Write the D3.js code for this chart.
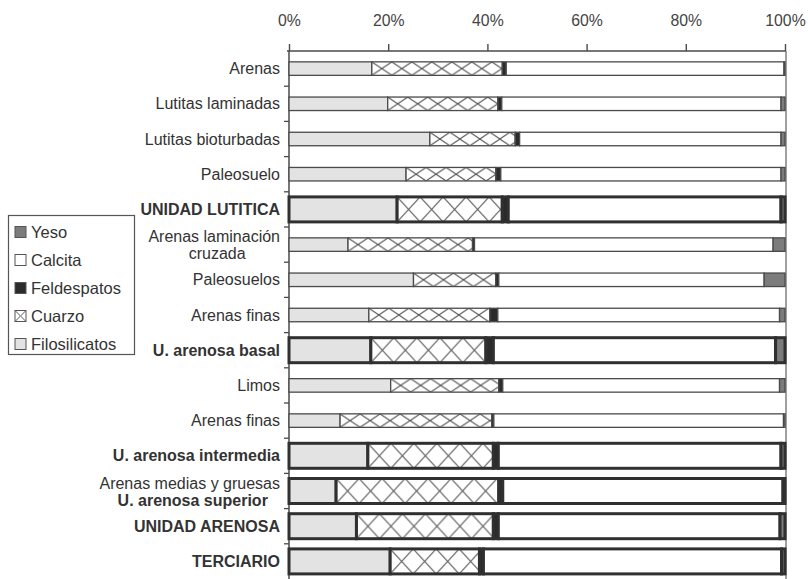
<!DOCTYPE html>
<html>
<head>
<meta charset="utf-8">
<script src="https://cdn.jsdelivr.net/npm/d3@7"></script>
<style>
  html, body { margin: 0; padding: 0; background: #fff; }
  svg { display: block; font-family: "Liberation Sans", Arial, Helvetica, sans-serif; }
</style>
</head>
<body>
<svg id="chart" width="808" height="579"></svg>
<script>
// ---------- DATA ----------
const categories = [
  "Arenas",
  "Lutitas laminadas",
  "Lutitas bioturbadas",
  "Paleosuelo",
  "UNIDAD LUTITICA",
  "Arenas laminación\ncruzada",
  "Paleosuelos",
  "Arenas finas",
  "U. arenosa basal",
  "Limos",
  "Arenas finas",
  "U. arenosa intermedia",
  "Arenas medias y gruesas\nU. arenosa superior",
  "UNIDAD ARENOSA",
  "TERCIARIO"
];
const boldLabels = ["UNIDAD LUTITICA", "U. arenosa basal", "U. arenosa intermedia",
  "U. arenosa superior", "UNIDAD ARENOSA", "TERCIARIO"];

const seriesNames = ["Filosilicatos", "Cuarzo", "Feldespatos", "Calcita", "Yeso"];
const filosilicatos = [16.7, 19.9, 28.4, 23.6, 21.8, 11.9, 25.1, 16.1, 16.5, 20.5, 10.3, 15.9, 9.5, 13.6, 20.4];
const cuarzo        = [26.3, 22.2, 17.2, 18.1, 21.2, 25.1, 16.6, 24.4, 23.2, 21.8, 30.6, 25.3, 32.8, 27.6, 18.0];
const feldespatos   = [0.8, 0.8, 0.9, 1.0, 1.2, 0.4, 0.6, 1.6, 1.5, 0.8, 0.4, 1.0, 0.8, 1.0, 0.8];
const calcita       = [56.0, 56.3, 52.7, 56.5, 55.0, 60.2, 53.5, 56.8, 56.9, 55.8, 58.4, 57.0, 56.5, 56.8, 60.1];
const yeso          = [0.2, 0.8, 0.8, 0.8, 0.8, 2.4, 4.2, 1.1, 1.9, 1.1, 0.3, 0.8, 0.4, 1.0, 0.7];
const tickValues = [0, 20, 40, 60, 80, 100];
const legendOrder = ["Yeso", "Calcita", "Feldespatos", "Cuarzo", "Filosilicatos"];

// ---------- SETUP ----------
const svg = d3.select("#chart");
const defs = svg.append("defs");
const margin = { left: 289, right: 785, top: 51, bottom: 579 };
const x = d3.scaleLinear().domain([0, 100]).range([margin.left, margin.right]);
const y = d3.scaleBand().domain(d3.range(categories.length)).range([margin.top, margin.bottom]).paddingInner(0);

const fills = {
  "Filosilicatos": "#e3e3e3",
  "Cuarzo": "hatch",
  "Feldespatos": "#2b2b2b",
  "Calcita": "#ffffff",
  "Yeso": "#7c7c7c"
};
const ink = "#4a4a4a";
const textColor = "#333";
const labelSize = "16px";

const rows = categories.map((c, i) => {
  const lines = c.split("\n");
  const bold = lines.some(l => boldLabels.includes(l));
  const vals = [filosilicatos[i], cuarzo[i], feldespatos[i], calcita[i], yeso[i]];
  let acc = 0;
  const segs = vals.map((v, k) => { const s = { name: seriesNames[k], x0: acc, x1: acc + v }; acc += v; return s; });
  return { i, lines, bold, segs };
});

// ---------- AXES ----------
const topAxis = d3.axisTop(x).tickValues(tickValues).tickFormat(d => d + "%").tickSize(7).tickSizeOuter(0).tickPadding(18);
const gTop = svg.append("g").attr("transform", `translate(0,${margin.top})`).call(topAxis);
gTop.select(".domain").attr("stroke", ink).attr("stroke-width", 1.6).attr("d", `M${x(0) - 2},0H${x(100) + 1}`);
gTop.selectAll(".tick line").attr("stroke", ink).attr("stroke-width", 1.4);
gTop.selectAll(".tick text").attr("fill", "#444").attr("font-size", "15.8px")
  .attr("font-family", '"Liberation Sans", Arial, sans-serif');

svg.append("line").attr("x1", x(0)).attr("x2", x(0)).attr("y1", margin.top).attr("y2", margin.bottom)
  .attr("stroke", ink).attr("stroke-width", 1.5);
svg.append("line").attr("x1", x(100) + 1).attr("x2", x(100) + 1).attr("y1", margin.top).attr("y2", margin.bottom)
  .attr("stroke", "#777").attr("stroke-width", 1.4);
svg.append("g").selectAll("line").data(d3.range(1, categories.length)).join("line")
  .attr("x1", x(0) - 5).attr("x2", x(0)).attr("y1", d => y(d)).attr("y2", d => y(d))
  .attr("stroke", ink).attr("stroke-width", 1.3);

// ---------- BARS ----------
const gBars = svg.append("g");
rows.forEach(r => {
  const h = r.bold ? 25 : 13.5;
  const sw = r.bold ? 3 : 1.3;
  const cy = y(r.i) + y.bandwidth() / 2;
  const top = cy - h / 2;
  const q = r.segs.find(s => s.name === "Cuarzo");
  const pw = r.bold ? 23 : 20;
  const pid = "hatch" + r.i;
  const pat = defs.append("pattern").attr("id", pid).attr("patternUnits", "userSpaceOnUse")
    .attr("x", x(q.x0)).attr("y", top).attr("width", pw).attr("height", h);
  pat.append("rect").attr("width", pw).attr("height", h).attr("fill", "#fff");
  pat.append("path").attr("d", `M0,0L${pw},${h}M${pw},0L0,${h}`)
    .attr("stroke", "#555").attr("stroke-width", 1.1).attr("fill", "none");

  const g = gBars.append("g");
  g.selectAll("rect").data(r.segs.filter(s => s.x1 - s.x0 > 0)).join("rect")
    .attr("x", s => x(s.x0)).attr("width", s => x(s.x1) - x(s.x0))
    .attr("y", top).attr("height", h)
    .attr("fill", s => fills[s.name] === "hatch" ? `url(#${pid})` : fills[s.name])
    .attr("stroke", r.bold ? "#303030" : ink).attr("stroke-width", sw);
});

// ---------- ROW LABELS ----------
const gLab = svg.append("g").attr("fill", textColor);
rows.forEach(r => {
  const cy = y(r.i) + y.bandwidth() / 2;
  const lx = x(0) - 9;
  if (r.lines.length === 1) {
    gLab.append("text").attr("x", lx).attr("y", cy + 5.5).attr("text-anchor", "end")
      .attr("font-size", labelSize).attr("font-weight", r.bold ? "bold" : "normal").text(r.lines[0]);
  } else {
    const t1 = gLab.append("text").attr("x", lx).attr("y", cy - 2.5).attr("text-anchor", "end")
      .attr("font-size", labelSize).attr("font-weight", boldLabels.includes(r.lines[0]) ? "bold" : "normal").text(r.lines[0]);
    const w = t1.node().getComputedTextLength();
    gLab.append("text").attr("x", lx - w / 2 + 3).attr("y", cy + 14.5).attr("text-anchor", "middle")
      .attr("font-size", labelSize).attr("font-weight", boldLabels.includes(r.lines[1]) ? "bold" : "normal").text(r.lines[1]);
  }
});

// ---------- LEGEND ----------
const lg = svg.append("g");
lg.append("rect").attr("x", 8.5).attr("y", 215.5).attr("width", 126).attr("height", 139)
  .attr("fill", "#fff").attr("stroke", "#555").attr("stroke-width", 1.2);
const ly = d3.scalePoint().domain(legendOrder).range([232, 344]);
defs.append("pattern").attr("id", "hatchLegend").attr("patternUnits", "userSpaceOnUse")
  .attr("x", 15).attr("y", ly("Cuarzo") - 5.5).attr("width", 11).attr("height", 11)
  .append("path").attr("d", "M0,0L11,11M11,0L0,11").attr("stroke", "#555").attr("stroke-width", 1);
legendOrder.forEach(n => {
  const cy = ly(n);
  lg.append("rect").attr("x", 15).attr("y", cy - 5.5).attr("width", 11).attr("height", 11)
    .attr("fill", fills[n] === "hatch" ? "url(#hatchLegend)" : fills[n])
    .attr("stroke", "#555").attr("stroke-width", 1);
  lg.append("text").attr("x", 31).attr("y", cy + 6).attr("font-size", "16.5px").attr("fill", textColor).text(n);
});
</script>
</body>
</html>
